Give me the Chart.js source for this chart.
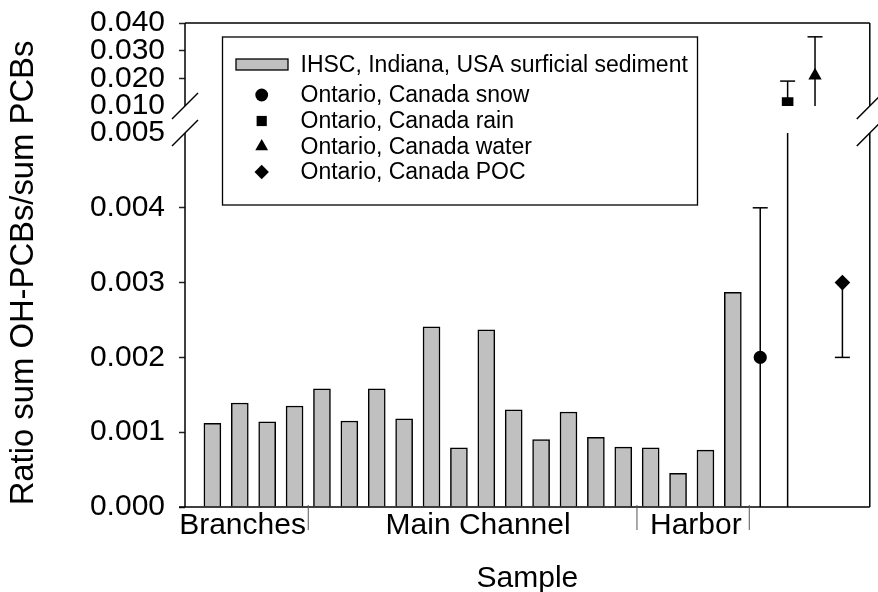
<!DOCTYPE html>
<html>
<head>
<meta charset="utf-8">
<title>Ratio sum OH-PCBs / sum PCBs</title>
<script src="https://cdn.jsdelivr.net/npm/chart.js@4.4.1/dist/chart.umd.min.js"></script>
<style>
  html, body { margin: 0; padding: 0; background: #fff; }
  #wrap { width: 878px; height: 592px; }
</style>
</head>
<body>
<div id="wrap"><canvas id="chart" width="878" height="592"></canvas></div>
<script>
// ---- data ----
// IHSC sediment samples, one bar per slot on the x axis
const samplePos = [1, 2, 3, 4, 5, 6, 7, 8, 9, 10, 11, 12, 13, 14, 15, 16, 17, 18, 19, 20];
const sedimentRatio = [0.00112, 0.00139, 0.00114, 0.00135, 0.00158, 0.00115, 0.00158, 0.00118, 0.00241, 0.00079,
                       0.00237, 0.00130, 0.00090, 0.00127, 0.00093, 0.00080, 0.00079, 0.00045, 0.00076, 0.00287];
const sedimentLabel = 'IHSC, Indiana, USA surficial sediment';

// sampling areas written under the axis, and the marks between them
const groupLabels = ['Branches', 'Main Channel', 'Harbor'];
const groupLabelPos = [2.1, 10.7, 18.65];
const groupBounds = [4.5, 16.5, 20.6];

// Ontario values: mean with low/high range
const ontarioLabels = ['Ontario, Canada snow', 'Ontario, Canada rain', 'Ontario, Canada water', 'Ontario, Canada POC'];
const ontarioPos = [21, 22, 23, 24];
const ontarioMean = [0.0020, 0.0111, 0.0210, 0.0030];
const ontarioLow = [0, 0, 0.007, 0.0020];
const ontarioHigh = [0.0040, 0.0190, 0.0350, 0.0030];

// broken y axis: lower and upper panel
const lowRange = [0, 0.005];
const highRange = [0.010, 0.040];
const xRange = [0, 25];

// ---- styles ----
const FONT = '"Liberation Sans", Arial, Helvetica, sans-serif';
Chart.defaults.font.family = FONT;
Chart.defaults.color = '#000';
const BAR_FILL = '#c0c0c0';
const MARKERS = [
  { style: 'circle', r: 6.6, legendR: 6.4 },
  { style: 'rect', r: 8.2, legendR: 7.2 },
  { style: 'triangle', r: 7.7, legendR: 7.4 },
  { style: 'rectRot', r: 7.8, legendR: 7.2 },
];
const AXIS_W = 185;   // left edge of the plot

function line(ctx, x1, y1, x2, y2) { ctx.beginPath(); ctx.moveTo(x1, y1); ctx.lineTo(x2, y2); ctx.stroke(); }

function yAxis(range, step, weight, hideEdge) {
  return {
    type: 'linear', position: 'left', stack: 'left', stackWeight: weight,
    min: range[0], max: range[1], offset: false,
    border: { display: false },
    grid: {
      drawOnChartArea: false, drawTicks: true, tickLength: 6, tickWidth: 1.5,
      tickColor: (c) => (c.tick && Math.abs(c.tick.value - hideEdge) < 1e-9) ? 'rgba(0,0,0,0)' : '#222',
    },
    ticks: { stepSize: step, autoSkip: false, padding: 14, font: { size: 30 }, color: '#000', callback: (v) => v.toFixed(3) },
    // fixed width, and no extra room for the half labels at the ends
    afterFit: (s) => { s.width = AXIS_W; s.paddingTop = 0; s.paddingBottom = 0; },
  };
}

// error bars, frame with axis breaks, area marks, y title and the boxed legend
const decor = {
  id: 'decor',
  beforeDatasetsDraw(chart) {
    const { ctx, scales } = chart;
    ctx.save(); ctx.strokeStyle = '#000'; ctx.lineWidth = 1.5;
    ontarioPos.forEach((pos, k) => {
      const x = scales.x.getPixelForValue(pos);
      [scales.y, scales.yTop].forEach((sc) => {
        const a = Math.max(ontarioLow[k], sc.min), b = Math.min(ontarioHigh[k], sc.max);
        if (a >= b) return;
        line(ctx, x, sc.getPixelForValue(a), x, sc.getPixelForValue(b));
        [ontarioLow[k], ontarioHigh[k]].forEach((v) => {
          if (v > sc.min && v < sc.max && v !== ontarioMean[k]) { const y = sc.getPixelForValue(v); line(ctx, x - 7.5, y, x + 7.5, y); }
        });
      });
    });
    ctx.restore();
  },
  afterDraw(chart) {
    const { ctx, chartArea: a, scales } = chart;
    const gapTop = scales.yTop.bottom, gapBot = scales.y.top;
    ctx.save();
    ctx.strokeStyle = '#000'; ctx.lineWidth = 1.5;
    line(ctx, a.left, a.top, a.right, a.top);
    line(ctx, a.left - 6, a.bottom, a.right, a.bottom);
    [a.left, a.right].forEach((x) => {
      line(ctx, x, a.top, x, gapTop);
      line(ctx, x, gapBot, x, a.bottom);
      [gapTop, gapBot].forEach((y) => line(ctx, x - 13, y + 13, x + 13, y - 13));
    });

    ctx.strokeStyle = '#555'; ctx.lineWidth = 1;
    groupBounds.forEach((b) => { const x = scales.x.getPixelForValue(b); line(ctx, x, a.bottom - 2, x, a.bottom + 23); });

    // y title, centred on the whole plot height
    ctx.save();
    ctx.translate(24, (a.top + a.bottom) / 2 + 8); ctx.rotate(-Math.PI / 2);
    ctx.font = '32.8px ' + FONT; ctx.fillStyle = '#000'; ctx.textAlign = 'center'; ctx.textBaseline = 'middle';
    ctx.fillText('Ratio sum OH-PCBs/sum PCBs', 0, 0);
    ctx.restore();

    // legend box
    const bx = a.left + 37.5, by = a.top + 14;
    ctx.lineWidth = 1.3; ctx.strokeStyle = '#000';
    ctx.strokeRect(bx, by, 475, 168);
    const rows = [27.5, 58, 84, 109.5, 135];
    ctx.font = '23px ' + FONT; ctx.textBaseline = 'middle'; ctx.textAlign = 'left';
    chart.data.datasets.forEach((ds, i) => {
      const ry = by + rows[i];
      if (ds.type === 'bar') {
        ctx.fillStyle = BAR_FILL; ctx.fillRect(bx + 13.5, ry - 5.5, 52, 11);
        ctx.lineWidth = 1.3; ctx.strokeRect(bx + 13.5, ry - 5.5, 52, 11);
      } else {
        const m = MARKERS[i - 1];
        ctx.fillStyle = '#000';
        Chart.helpers.drawPoint(ctx, { pointStyle: m.style, radius: m.legendR, rotation: 0, borderWidth: 0 }, bx + 39.2, ry);
      }
      ctx.fillStyle = '#000';
      ctx.fillText(ds.label, bx + 78, ry + 1);
    });
    ctx.restore();
  },
};

const datasets = [{
  type: 'bar', label: sedimentLabel,
  data: samplePos.map((x, i) => ({ x, y: sedimentRatio[i] })),
  backgroundColor: BAR_FILL, borderColor: '#000', borderWidth: 1.5, barThickness: 17,
  xAxisID: 'x', yAxisID: 'y',
}].concat(ontarioLabels.map((label, i) => ({
  type: 'line', label, showLine: false,
  data: [{ x: ontarioPos[i], y: ontarioMean[i] }],
  pointStyle: MARKERS[i].style, pointRadius: MARKERS[i].r, pointBorderWidth: 0,
  pointBackgroundColor: '#000', borderColor: '#000',
  xAxisID: 'x', yAxisID: ontarioMean[i] >= highRange[0] ? 'yTop' : 'y',
})));

new Chart(document.getElementById('chart'), {
  type: 'bar',
  data: { datasets },
  options: {
    responsive: false, animation: false, devicePixelRatio: 1,
    layout: { padding: { top: 23, right: 1, left: 0, bottom: 0 } },
    plugins: { legend: { display: false }, tooltip: { enabled: false } },
    scales: {
      x: {
        type: 'linear', position: 'bottom', min: xRange[0], max: xRange[1], offset: false,
        grid: { display: false }, border: { display: false },
        afterBuildTicks: (s) => { s.ticks = groupLabelPos.map((value) => ({ value })); },
        ticks: { autoSkip: false, maxRotation: 0, padding: -7, font: { size: 30 }, color: '#000', callback: (v, i) => groupLabels[i] },
        title: { display: true, text: 'Sample', color: '#000', font: { size: 30, lineHeight: 1 }, padding: { top: 0, bottom: -2 } },
        afterFit: (s) => { s.height = 85; s.paddingLeft = 0; s.paddingRight = 0; },
      },
      y: yAxis(lowRange, 0.001, 374, lowRange[1]),
      yGap: {
        type: 'linear', position: 'left', stack: 'left', stackWeight: 27, min: 0, max: 1,
        grid: { display: false }, border: { display: false }, ticks: { display: false },
      },
      yTop: yAxis(highRange, 0.010, 83, highRange[0]),
    },
  },
  plugins: [decor],
});
</script>
</body>
</html>
